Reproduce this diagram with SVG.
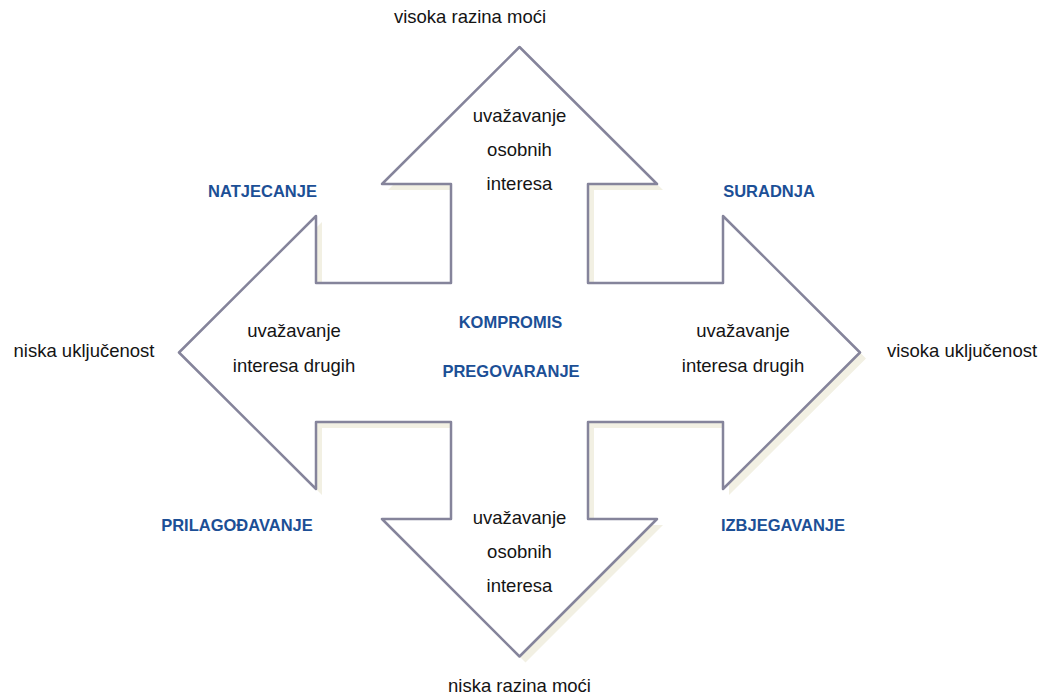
<svg xmlns="http://www.w3.org/2000/svg" width="1050" height="694" viewBox="0 0 1050 694">
<style>
.t{font-family:"Liberation Sans",Arial,sans-serif;font-size:18.5px;fill:#141414;text-anchor:middle}
.b{font-family:"Liberation Sans",Arial,sans-serif;font-size:16.5px;font-weight:bold;fill:#1c4f96;text-anchor:middle}
.outline{fill:#ffffff;stroke:#85849b;stroke-width:2.5;stroke-linejoin:round}
.shadow{fill:#f2f0e3;stroke:none}
</style>
<defs>
<path id="cross" d="M519.5,47 L657,184 L588,184 L588,283 L723,283 L723,216 L860,352.5 L723,489 L723,422 L588,422 L588,519 L657,519 L519.5,656.5 L382,519 L451,519 L451,422 L316,422 L316,489 L179,352.5 L316,216 L316,283 L451,283 L451,184 L382,184 Z"/>
</defs>
<rect x="0" y="0" width="1050" height="694" fill="#ffffff"/>
<g id="arrow-shape">
<use href="#cross" class="shadow" transform="translate(6,6)"/>
<use href="#cross" class="outline"/>
</g>
<g id="axis-labels">
<text class="t" x="470" y="23">visoka razina moći</text>
<text class="t" x="519.5" y="692">niska razina moći</text>
<text class="t" x="84" y="357">niska uključenost</text>
<text class="t" x="962" y="357">visoka uključenost</text>
</g>
<g id="top-arrow">
<text class="t" x="519.5" y="122">uvažavanje</text>
<text class="t" x="519.5" y="156">osobnih</text>
<text class="t" x="519.5" y="190">interesa</text>
</g>
<g id="bottom-arrow">
<text class="t" x="519.5" y="524">uvažavanje</text>
<text class="t" x="519.5" y="558">osobnih</text>
<text class="t" x="519.5" y="592">interesa</text>
</g>
<g id="left-arrow">
<text class="t" x="294" y="337">uvažavanje</text>
<text class="t" x="294" y="372">interesa drugih</text>
</g>
<g id="right-arrow">
<text class="t" x="743" y="337">uvažavanje</text>
<text class="t" x="743" y="372">interesa drugih</text>
</g>
<g id="center">
<text class="b" x="510.5" y="328">KOMPROMIS</text>
<text class="b" x="511" y="377">PREGOVARANJE</text>
</g>
<g id="natjecanje"><text class="b" x="262.5" y="197">NATJECANJE</text></g>
<g id="suradnja"><text class="b" x="769" y="197">SURADNJA</text></g>
<g id="prilagodavanje"><text class="b" x="237" y="531">PRILAGOĐAVANJE</text></g>
<g id="izbjegavanje"><text class="b" x="783" y="531">IZBJEGAVANJE</text></g>
</svg>
